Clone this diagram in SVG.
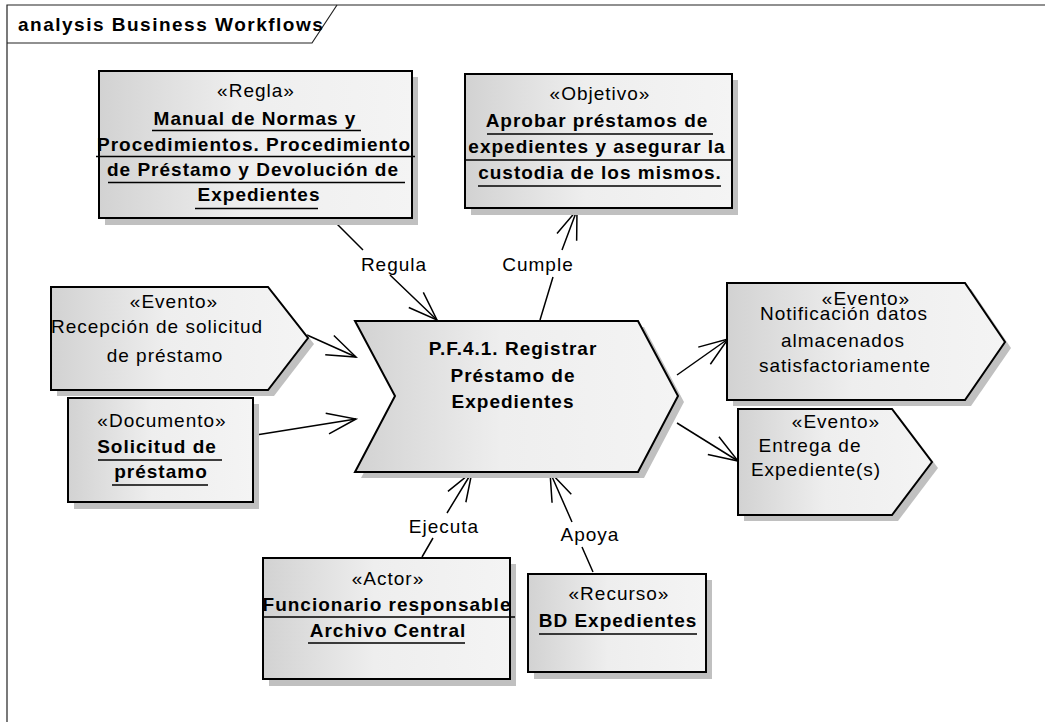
<svg xmlns="http://www.w3.org/2000/svg" width="1045" height="722" viewBox="0 0 1045 722">
<style>
.t{font-family:"Liberation Sans",Arial,sans-serif;font-size:19px;letter-spacing:1px;fill:#000;text-anchor:middle}
.b{font-weight:bold}
.ul{stroke:#000;stroke-width:1.5}
.box{fill:url(#g);stroke:#000;stroke-width:2}
.sh{fill:#c0c0c0}
.c{fill:none;stroke:#000;stroke-width:1.5;marker-end:url(#arr)}
.fr{fill:none;stroke:#222;stroke-width:1.2}
</style>
<defs>
<linearGradient id="g" x1="0" y1="0" x2="1" y2="0">
<stop offset="0" stop-color="#d2d2d2"/>
<stop offset="0.45" stop-color="#eeeeee"/>
<stop offset="1" stop-color="#f4f4f4"/>
</linearGradient>
<marker id="arr" markerUnits="userSpaceOnUse" markerWidth="40" markerHeight="30" refX="0" refY="0" viewBox="-32 -15 36 30" orient="auto" overflow="visible">
<path d="M-29,-10.5 L0,0 L-29,10.5" fill="none" stroke="#000" stroke-width="1.5"/>
</marker>
</defs>
<rect width="1045" height="722" fill="#fff"/>
<g id="frame">
<path class="fr" d="M7,722 L7,5 L1045,5"/>
<path class="fr" d="M7,43 L312,43 L337,5"/>
<text class="t b" x="18" y="31" style="text-anchor:start;letter-spacing:1.5px">analysis Business Workflows</text>
</g>
<g id="connectors">
<path class="c" d="M333,220 L363,250 M390,275 L437,320"/>
<text class="t" x="394" y="271">Regula</text>
<path class="c" d="M540,320 L553,277 M562,250 L577,210"/>
<text class="t" x="538" y="271">Cumple</text>
<path class="c" d="M307,335 L356,357"/>
<path class="c" d="M256,435 L356,419"/>
<path class="c" d="M677,375 L728,339"/>
<path class="c" d="M677,423 L738,461"/>
<path class="c" d="M422,557 L433,538 M447,513 L472,472"/>
<text class="t" x="444" y="533">Ejecuta</text>
<path class="c" d="M593,572 L582,547 M572,522 L550,472"/>
<text class="t" x="590" y="541">Apoya</text>
</g>
<g id="regla">
<rect class="sh" x="105" y="77" width="313" height="148"/>
<rect class="box" x="99" y="71" width="313" height="147"/>
<text class="t" x="256" y="97">«Regla»</text>
<text class="t b" x="255" y="125">Manual de Normas y</text>
<line class="ul" x1="152" y1="130.5" x2="361" y2="130.5"/>
<text class="t b" x="254" y="151">Procedimientos. Procedimiento</text>
<line class="ul" x1="96" y1="156.5" x2="415" y2="156.5"/>
<text class="t b" x="253" y="176">de Préstamo y Devolución de</text>
<line class="ul" x1="108" y1="182.5" x2="405" y2="182.5"/>
<text class="t b" x="259" y="201">Expedientes</text>
<line class="ul" x1="195" y1="208.5" x2="318" y2="208.5"/>
</g>
<g id="objetivo">
<rect class="sh" x="471" y="80" width="267" height="135"/>
<rect class="box" x="465" y="74" width="267" height="134"/>
<text class="t" x="600" y="100">«Objetivo»</text>
<text class="t b" x="597" y="127">Aprobar préstamos de</text>
<line class="ul" x1="487" y1="134" x2="713" y2="134"/>
<text class="t b" x="597" y="153">expedientes y asegurar la</text>
<line class="ul" x1="465" y1="160" x2="732" y2="160"/>
<text class="t b" x="600" y="179">custodia de los mismos.</text>
<line class="ul" x1="478" y1="186" x2="721" y2="186"/>
</g>
<g id="recepcion">
<polygon class="sh" points="57,293 274,293 314,344 274,396 57,396"/>
<polygon class="box" points="51,287 268,287 308,338 268,390 51,390"/>
<text class="t" x="174" y="308">«Evento»</text>
<text class="t" x="157" y="333">Recepción de solicitud</text>
<text class="t" x="165" y="362">de préstamo</text>
</g>
<g id="documento">
<rect class="sh" x="74" y="404" width="185" height="105"/>
<rect class="box" x="68" y="398" width="185" height="104"/>
<text class="t" x="162" y="427">«Documento»</text>
<text class="t b" x="157" y="453">Solicitud de</text>
<line class="ul" x1="98" y1="460" x2="222" y2="460"/>
<text class="t b" x="161" y="478">préstamo</text>
<line class="ul" x1="112" y1="485" x2="208" y2="485"/>
</g>
<g id="proceso">
<polygon class="sh" points="361,327 644,327 684,402 644,478 361,478 401,402"/>
<polygon class="box" points="355,321 638,321 678,396 638,472 355,472 395,396"/>
<text class="t b" x="513" y="355">P.F.4.1. Registrar</text>
<text class="t b" x="513" y="382">Préstamo de</text>
<text class="t b" x="513" y="408">Expedientes</text>
</g>
<g id="notificacion">
<polygon class="sh" points="733,289 971,289 1011,348 971,406 733,406"/>
<polygon class="box" points="727,283 965,283 1005,342 965,400 727,400"/>
<text class="t" x="866" y="305">«Evento»</text>
<text class="t" x="844" y="320">Notificación datos</text>
<text class="t" x="843" y="347">almacenados</text>
<text class="t" x="845" y="372">satisfactoriamente</text>
</g>
<g id="entrega">
<polygon class="sh" points="744,415 898,415 938,468 898,521 744,521"/>
<polygon class="box" points="738,409 892,409 932,462 892,515 738,515"/>
<text class="t" x="836" y="428">«Evento»</text>
<text class="t" x="810" y="452">Entrega de</text>
<text class="t" x="816" y="476">Expediente(s)</text>
</g>
<g id="actor">
<rect class="sh" x="269" y="564" width="247" height="122"/>
<rect class="box" x="263" y="558" width="247" height="121"/>
<text class="t" x="388" y="585">«Actor»</text>
<text class="t b" x="387" y="611">Funcionario responsable</text>
<line class="ul" x1="263" y1="617" x2="515" y2="617"/>
<text class="t b" x="388" y="637">Archivo Central</text>
<line class="ul" x1="308" y1="643" x2="465" y2="643"/>
</g>
<g id="recurso">
<rect class="sh" x="534" y="580" width="178" height="99"/>
<rect class="box" x="528" y="574" width="178" height="98"/>
<text class="t" x="619" y="600">«Recurso»</text>
<text class="t b" x="618" y="627">BD Expedientes</text>
<line class="ul" x1="539" y1="634" x2="697" y2="634"/>
</g>
</svg>
